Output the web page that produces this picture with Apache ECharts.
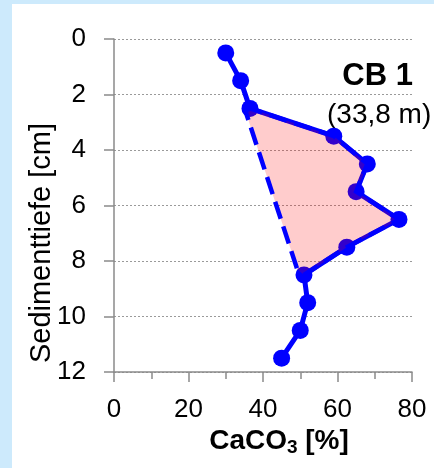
<!DOCTYPE html>
<html>
<head>
<meta charset="utf-8">
<script src="https://cdn.jsdelivr.net/npm/echarts@6/dist/echarts.min.js"></script>
<style>
  html, body { margin: 0; padding: 0; background: #cdeafc; width: 434px; height: 468px; overflow: hidden; }
  #chart { position: absolute; left: 12px; top: 4px; width: 422px; height: 464px; background: #ffffff; }
</style>
</head>
<body>
<div id="chart"></div>
<script>
// CaCO3 content (%) against sediment depth (cm), core CB 1
const depth = [0.5, 1.5, 2.5, 3.5, 4.5, 5.5, 6.5, 7.5, 8.5, 9.5, 10.5, 11.5];
const caco3 = [30, 34, 36.5, 59, 68, 65, 76.5, 62.5, 51, 52, 50, 45];

// Highlighted zone: profile between 2.5 and 8.5 cm closed by a straight base line
const zoneCaco3 = [35.3, 36.5, 59, 68, 65, 76.5, 62.5, 51, 49.2];
const zoneDepth = [2.6, 2.5, 3.5, 4.5, 5.5, 6.5, 7.5, 8.5, 8.3];

const xTicks = { min: 0, max: 80, step: 20 };
const yTicks = { min: 0, max: 12, step: 2 };

const profile = depth.map((d, i) => [caco3[i], d]);
const zone = zoneDepth.map((d, i) => [zoneCaco3[i], d]);

const chart = echarts.init(document.getElementById('chart'), null, { renderer: 'canvas' });

const labelFont = '"Liberation Sans", Arial, sans-serif';
const axisGrey = '#8a8a8a';

chart.setOption({
  animation: false,
  grid: { left: 102, top: 35, right: 22, bottom: 96 },
  xAxis: {
    type: 'value',
    min: xTicks.min, max: xTicks.max, interval: xTicks.step,
    axisLine: { show: true, onZero: false, lineStyle: { color: axisGrey, width: 1.5 } },
    axisTick: { show: true, length: 10, lineStyle: { color: axisGrey, width: 1.5 } },
    minorTick: { show: true, splitNumber: 2, length: 7, lineStyle: { color: axisGrey, width: 1.5 } },
    splitLine: { show: false },
    axisLabel: { fontSize: 26, color: '#000', fontFamily: labelFont, margin: 25 }
  },
  yAxis: {
    type: 'value',
    inverse: true,
    min: yTicks.min, max: yTicks.max, interval: yTicks.step,
    axisLine: { show: true, onZero: false, lineStyle: { color: axisGrey, width: 1.5 } },
    axisTick: { show: true, length: 10, lineStyle: { color: axisGrey, width: 1.5 } },
    splitLine: { show: true, lineStyle: { color: '#9a9a9a', width: 1, type: [2, 2] } },
    axisLabel: { fontSize: 26, color: '#000', fontFamily: labelFont, margin: 28 }
  },
  graphic: [
    {
      type: 'text',
      x: 30, y: 239,
      rotation: Math.PI / 2,
      style: {
        text: 'Sedimenttiefe [cm]',
        font: '29px ' + labelFont,
        fill: '#000',
        align: 'center',
        verticalAlign: 'middle'
      }
    },
    {
      type: 'text',
      x: 267, y: 437,
      style: {
        text: '{b|CaCO}{s|3}{b| [%]}',
        align: 'center',
        verticalAlign: 'middle',
        rich: {
          b: { fontSize: 28, fontWeight: 'bold', fontFamily: labelFont, color: '#000' },
          s: { fontSize: 19, fontWeight: 'bold', fontFamily: labelFont, color: '#000', padding: [14, 0, 0, 0] }
        }
      }
    },
    {
      type: 'text',
      x: 401, y: 72,
      style: {
        text: 'CB 1',
        font: 'bold 31px ' + labelFont,
        fill: '#000',
        align: 'right',
        verticalAlign: 'middle'
      }
    },
    {
      type: 'text',
      x: 315, y: 111,
      style: {
        text: '(33,8 m)',
        font: '28px ' + labelFont,
        fill: '#000',
        align: 'left',
        verticalAlign: 'middle'
      }
    }
  ],
  series: [
    {
      type: 'line',
      data: profile,
      z: 2,
      symbol: 'circle',
      symbolSize: 17,
      lineStyle: { color: '#0000ff', width: 5 },
      itemStyle: { color: '#0000ff' }
    },
    {
      type: 'custom',
      z: 3,
      silent: true,
      data: [0],
      renderItem: function (params, api) {
        const pts = zone.map(p => api.coord(p));
        return {
          type: 'polygon',
          shape: { points: pts },
          style: {
            fill: 'rgba(255,0,0,0.2)',
            stroke: '#0000ff',
            lineWidth: 4.5,
            lineDash: [18, 8]
          }
        };
      }
    }
  ]
});
</script>
</body>
</html>
